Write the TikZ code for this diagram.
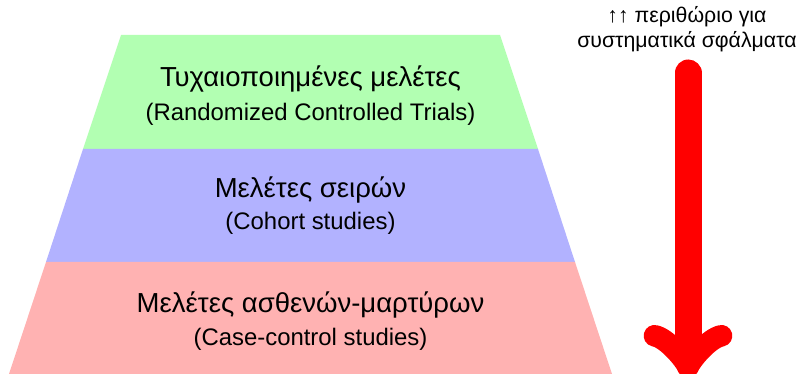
\documentclass[tikz,border=0pt]{standalone}
\usepackage{fontspec}
\setmainfont{Liberation Sans}
\colorlet{rctcol}{green!30}
\colorlet{cohortcol}{blue!30}
\colorlet{casecol}{red!30}
\tikzset{
    band title/.style={anchor=base, inner sep=0pt, font=\fontsize{27.5}{32}\selectfont},
    band sub/.style={anchor=base, inner sep=0pt, font=\fontsize{23.9}{28}\selectfont},
    bias note/.style={anchor=base, inner sep=0pt, font=\fontsize{21.3}{25}\selectfont}
}

\begin{document}
\begin{tikzpicture}[x=1pt, y=-1pt]
        \useasboundingbox (0,0) rectangle (804,374);
        % the three levels of the pyramid
        \fill [rctcol] (121,35) -- (500,35) -- (538,149) -- (83,149) -- cycle;
        \fill [cohortcol] (83,149) -- (538,149) -- (575,262) -- (46,262) -- cycle;
        \fill [casecol] (46,262) -- (575,262) -- (612,374) -- (9,374) -- cycle;
        \node [band title] (rct) at (310.5,87) {Τυχαιοποιημένες μελέτες};
        \node [band sub] (rctsub) at (310.5,121) {(Randomized Controlled Trials)};
        \node [band title] (cohort) at (310.5,198) {Μελέτες σειρών};
        \node [band sub] (cohortsub) at (310.5,230) {(Cohort studies)};
        \node [band title] (casectrl) at (310.5,313) {Μελέτες ασθενών-μαρτύρων};
        \node [band sub] (casectrlsub) at (310.5,345) {(Case-control studies)};
        % bias arrow
        \node [bias note] (bias) at (687,23) {↑↑ περιθώριο για};
        \node [bias note] (biassub) at (687,48) {συστηματικά σφάλματα};
        \coordinate (arrtop) at (688,73);
        \coordinate (arrend) at (688,378);
        \draw [red, line width=27pt, line cap=round, ->] (arrtop) -- (arrend);
    \end{tikzpicture}
\end{document}
